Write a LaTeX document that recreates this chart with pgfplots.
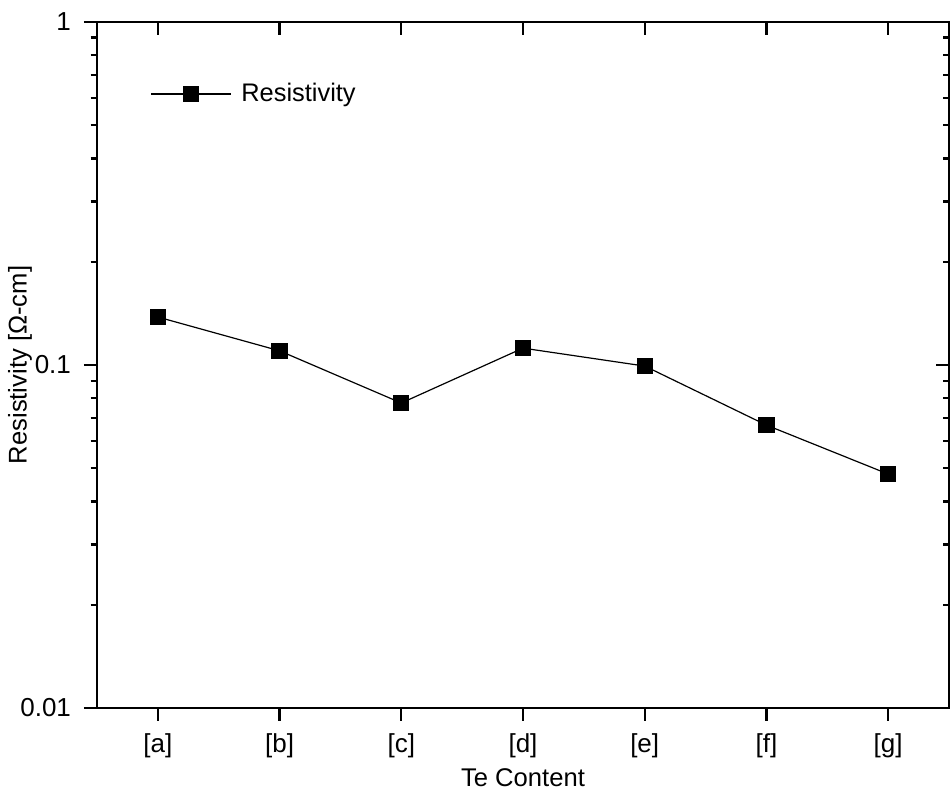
\documentclass[border=0pt]{standalone}
\usepackage{pgfplots}
\pgfplotsset{compat=1.18}
\usepackage{fontspec}
\setmainfont{Liberation Sans}
\begin{document}
\begin{tikzpicture}
\begin{axis}[
  width=426pt, height=343pt, scale only axis,
  xmin=-0.5, xmax=6.5,
  ymode=log, ymin=0.01, ymax=1,
  xtick={0,1,2,3,4,5,6},
  ytick={0.01,0.1,1},
  major tick length=6.5pt, minor tick length=3.2pt,
  every tick/.style={black, line width=1.2pt},
  every minor tick/.style={black, line width=1.2pt},
  axis line style={line width=1.2pt},
  tick align=outside,
  xtick pos=lower, ytick pos=left,
  xticklabels={[a],[b],[c],[d],[e],[f],[g]},
  yticklabels={0.01,0.1,1},
  tick label style={font=\fontsize{13}{15}\selectfont},
  xticklabel style={yshift=-3pt},
  yticklabel style={xshift=-3pt},
  xlabel={Te Content}, ylabel={Resistivity [Ω-cm]},
  xlabel style={font=\fontsize{12.8}{15}\selectfont, at={(axis description cs:0.5,-0.102)}, anchor=center},
  ylabel style={font=\fontsize{12.8}{15}\selectfont, at={(axis description cs:-0.0904,0.5)}, anchor=center},
  legend style={draw=none, fill=none, at={(axis description cs:0.06,0.895)}, anchor=west,
    font=\fontsize{12.7}{15}\selectfont, inner sep=1pt},
  legend cell align=left,
  legend image code/.code={\draw[mark repeat=2,mark phase=2,#1] plot coordinates {(0cm,0cm)(0.7cm,0cm)(1.4cm,0cm)};},
  legend style={/tikz/every even column/.append style={column sep=0pt}},
  legend style={nodes={inner xsep=5pt}},
]
\addplot[black, line width=0.6pt, mark=square*, mark size=3.8pt, mark options={solid, fill=black}]
  coordinates {(0,0.138) (1,0.110) (2,0.0775) (3,0.112) (4,0.0993) (5,0.0668) (6,0.0481)};
\addlegendentry{Resistivity}
\end{axis}
\begin{axis}[
  width=426pt, height=343pt, scale only axis,
  xmin=-0.5, xmax=6.5,
  ymode=log, ymin=0.01, ymax=1,
  xtick={0,1,2,3,4,5,6},
  ytick={0.01,0.1,1},
  major tick length=6.5pt, minor tick length=3.2pt,
  every tick/.style={black, line width=1.2pt},
  every minor tick/.style={black, line width=1.2pt},
  axis line style={draw=none},
  tick align=inside,
  xtick pos=upper, ytick pos=right,
  xticklabels={}, yticklabels={},
]
\end{axis}
\pgfresetboundingbox
\path (current axis.south west) ++(-48.5pt,-44.5pt) rectangle ([xshift=0.5pt,yshift=11pt]current axis.north east);
\end{tikzpicture}
\end{document}
